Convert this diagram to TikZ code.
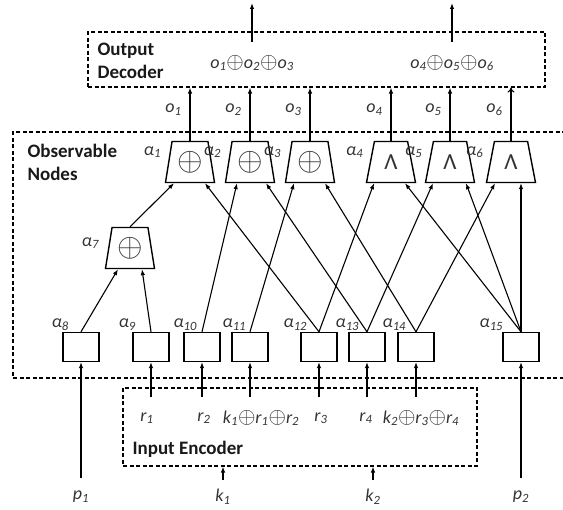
\documentclass[tikz,border=0pt]{standalone}
\usepackage{fontspec}
\setmainfont{Carlito}
\usepackage{graphicx}
\usetikzlibrary{shapes.geometric,calc,arrows.meta}

\newcommand{\al}[1]{α\textsubscript{#1}}
\newcommand{\lsub}[2]{#1\textsubscript{#2}}
\newcommand{\xo}{\scalebox{1.3}{$\oplus$}}
\newcommand{\gxor}{\scalebox{1.9}{$\oplus$}}
\newcommand{\gand}{{\fontsize{23}{23}\selectfont Λ}}

\begin{document}
\begin{tikzpicture}[x=1pt,y=-1pt,line width=1.1pt,>={Latex[length=6pt,width=4.5pt]},
  gate/.style={draw,line width=1.4pt,trapezium,trapezium stretches=true,
    trapezium left angle=78,trapezium right angle=78,
    minimum width=49pt,minimum height=41pt,inner sep=0pt,font=\fontsize{17}{20}\selectfont,text=black!80},
  cell/.style={draw,line width=1.4pt,minimum width=36pt,minimum height=29pt,inner sep=0pt},
  frame/.style={draw,line width=1.1pt,dash pattern=on 4pt off 2.5pt},
  lab/.style={font=\fontsize{18}{21}\selectfont\itshape,text=black!80,inner sep=1pt},
  head/.style={font=\fontsize{19}{23}\selectfont\bfseries,text=black!90,align=left,anchor=west,inner sep=0pt}]
\useasboundingbox (0,0) rectangle (563,510);

%% frames
\node[frame,minimum width=457pt,minimum height=55pt] (dec) at (316.5,59.5) {};
\node[frame,minimum width=354pt,minimum height=78pt] (enc) at (300,427) {};
\draw[frame] (566,132) -- (13,132) -- (13,378) -- (566,378);
\node[head] (hdec) at (97,61) {Output\\Decoder};
\node[head] (hobs) at (27,162) {Observable\\Nodes};
\node[head] (henc) at (132,449) {Input Encoder};

%% gates
\foreach \n/\x/\s in {1/190/\gxor,2/250/\gxor,3/310/\gxor,4/391/\gand,5/450/\gand,6/511/\gand}{
  \node[gate] (g\n) at (\x,162) {\s};
  \node[lab,anchor=north east] (l\n) at ($(g\n.top left corner)+(-9,4)$) {\al{\n}};
}
\node[gate] (g7) at (130,248) {\gxor};
\node[lab,anchor=north east] (l7) at ($(g7.top left corner)+(-11,9)$) {\al{7}};

%% cells
\foreach \n/\x/\d in {8/81/-2,9/151/-5,10/202/2,11/250/3,12/319/-5,13/367/-1,14/416/-3,15/521/-11}{
  \node[cell] (a\n) at (\x,347) {};
  \node[lab,anchor=south] (l\n) at ($(a\n.north west)+(\d,0)$) {\al{\n}};
}

%% links
\draw[->] (g7.north) -- ($(g1.south)+(-16,0)$);
\draw[->] (a8.north) -- ($(g7.south)+(-12,0)$);
\draw[->] (a9.north) -- ($(g7.south)+(12,0)$);
\draw[->] (a10.north) -- ($(g2.south)+(-13,0)$);
\draw[->] (a11.north) -- ($(g3.south)+(-16,0)$);
\draw[->] (a12.north) -- ($(g1.south)+(15,0)$);
\draw[->] (a12.north) -- ($(g4.south)+(-17,0)$);
\draw[->] (a13.north) -- ($(g2.south)+(16,0)$);
\draw[->] (a13.north) -- ($(g5.south)+(-17,0)$);
\draw[->] (a14.north) -- ($(g3.south)+(15,0)$);
\draw[->] (a14.north) -- ($(g6.south)+(-16,0)$);
\draw[->] (a15.north) -- ($(g4.south)+(14,0)$);
\draw[->] (a15.north) -- ($(g5.south)+(16,0)$);
\draw[->] (a15.north) -- (a15.north |- g6.south);

%% outputs
\foreach \n in {1,...,5}
  \draw[->] (g\n.north) -- (g\n.north |- dec.south) node[lab,pos=0.58,left,xshift=-7pt] (o\n) {\lsub{o}{\n}};
\draw[-{To[length=5pt,width=7pt]}] (g6.north) -- (g6.north |- dec.south) node[lab,pos=0.58,left,xshift=-7pt] (o6) {\lsub{o}{6}};

\node[lab] (d1) at (252,63) {\lsub{o}{1}\xo\lsub{o}{2}\xo\lsub{o}{3}};
\node[lab] (d2) at (452,63) {\lsub{o}{4}\xo\lsub{o}{5}\xo\lsub{o}{6}};
\coordinate (din) at (0,42);
\coordinate (dout) at (0,3);
\draw[->] (d1 |- din) -- (d1 |- dout);
\draw[->] (d2 |- din) -- (d2 |- dout);

%% encoder
\node[lab] (r1) at (147,418) {\lsub{r}{1}};
\node[lab] (r2) at (204,418) {\lsub{r}{2}};
\node[lab] (e1) at (261,418) {\lsub{k}{1}\xo\lsub{r}{1}\xo\lsub{r}{2}};
\node[lab] (r3) at (321,418) {\lsub{r}{3}};
\node[lab] (r4) at (366,418) {\lsub{r}{4}};
\node[lab] (e2) at (421,418) {\lsub{k}{2}\xo\lsub{r}{3}\xo\lsub{r}{4}};
\coordinate (ein) at (0,397);
\foreach \n in {9,...,14}
  \draw[->] (a\n.south |- ein) -- (a\n.south);

%% inputs
\node[lab] (p1) at (81,497) {\lsub{p}{1}};
\node[lab] (p2) at (521,497) {\lsub{p}{2}};
\node[lab] (k1) at (223,497) {\lsub{k}{1}};
\node[lab] (k2) at (373,497) {\lsub{k}{2}};
\coordinate (pin) at (0,478);
\coordinate (kin) at (0,480);
\draw[->] (p1 |- pin) -- (a8.south);
\draw[->] (p2 |- pin) -- (a15.south);
\draw[->] (k1 |- kin) -- (k1 |- enc.south);
\draw[->] (k2 |- kin) -- (k2 |- enc.south);
\end{tikzpicture}
\end{document}
